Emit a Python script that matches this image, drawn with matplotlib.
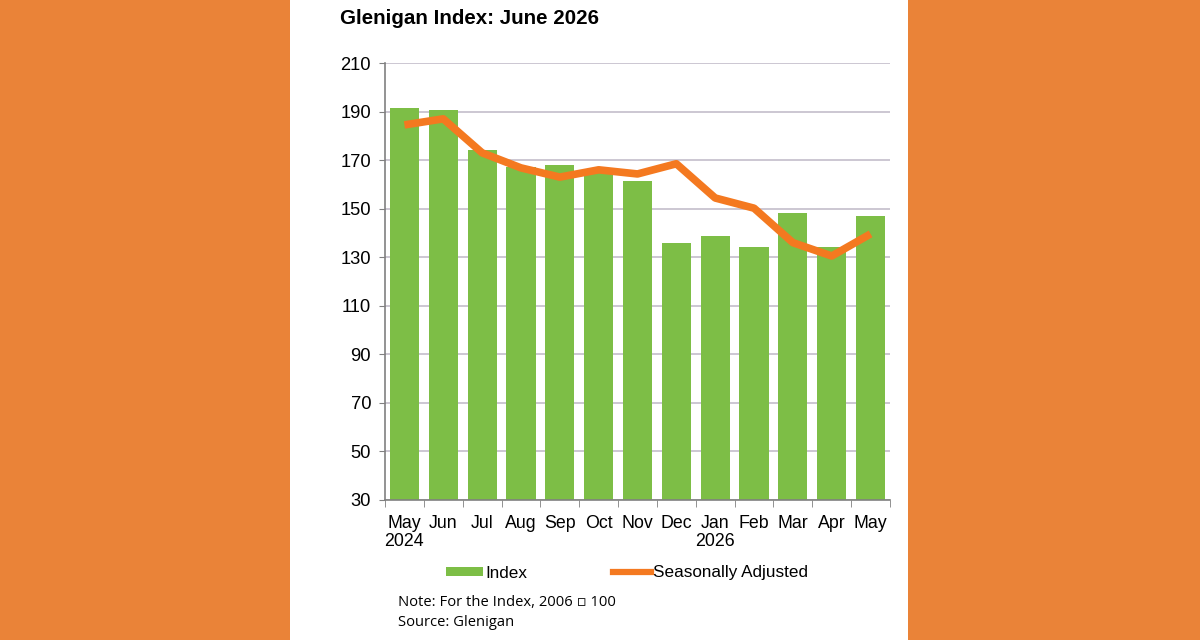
import numpy as np
import matplotlib
matplotlib.use("Agg")
import matplotlib.pyplot as plt
from matplotlib.patches import Rectangle
from matplotlib.lines import Line2D
from matplotlib.patches import Patch

months = ["May\n2024", "Jun", "Jul", "Aug", "Sep", "Oct", "Nov", "Dec",
          "Jan\n2026", "Feb", "Mar", "Apr", "May"]
index_vals = [191.5, 190.5, 174.2, 167.0, 168.0, 166.0, 161.4, 135.9,
              138.7, 134.2, 148.2, 134.2, 147.0]
seas_adj = [184.5, 187.0, 173.0, 166.8, 163.0, 166.0, 164.3, 168.5,
            154.4, 150.2, 136.0, 130.5, 139.6]
yticks = [30, 50, 70, 90, 110, 130, 150, 170, 190, 210]

BG = "#EA8338"
GREEN = "#7DBE46"
ORANGE = "#F47920"

plt.rcParams["font.family"] = ["Liberation Sans", "DejaVu Sans"]

fig = plt.figure(figsize=(12, 6.4), dpi=100, facecolor=BG)
fig.patches.append(Rectangle((290 / 1200, 0), 618 / 1200, 1,
                             transform=fig.transFigure, facecolor="white",
                             edgecolor="none", zorder=-10))

ax = fig.add_axes([385 / 1200, 1 - 500 / 640, 505 / 1200, 437 / 640])
ax.set_zorder(1)
ax.set_facecolor("white")
x = np.arange(len(months))
ax.bar(x, index_vals, width=0.75, color=GREEN, zorder=2)
ax.plot(x, seas_adj, color=ORANGE, lw=5.5, solid_joinstyle="round",
        solid_capstyle="butt", zorder=3)

ax.set_ylim(30, 210)
ax.set_xlim(-0.5, len(months) - 0.5)
ax.set_yticks(yticks)
ax.yaxis.grid(True, color="#C4BDCB", lw=1.2, zorder=0)
ax.set_axisbelow(True)
ax.set_xticks(x)
ax.set_xticklabels(months, fontsize=12.8, linespacing=1.05)
ax.set_xticks(np.arange(-0.5, len(months)), minor=True)
ax.tick_params(axis="x", which="major", length=0, pad=11)
ax.tick_params(axis="x", which="minor", length=5, color="#808080")
ax.tick_params(axis="y", length=4, color="#808080", labelsize=13.2, pad=6)
for s in ["top", "right"]:
    ax.spines[s].set_visible(False)
for s in ["left", "bottom"]:
    ax.spines[s].set_color("#808080")
    ax.spines[s].set_linewidth(1.2)

fig.text(340 / 1200, 1 - 18 / 640, "Glenigan Index: June 2026",
         fontsize=14.8, fontweight="bold", va="center", ha="left")

handles = [Patch(facecolor=GREEN, edgecolor="none"),
           Line2D([], [], color=ORANGE, lw=4.5)]
fig.legend(handles, ["Index", "Seasonally Adjusted"], loc="center",
           bbox_to_anchor=(627 / 1200, 1 - 573 / 640), ncol=2, frameon=False,
           fontsize=12.3, handlelength=2.2, handleheight=0.5,
           handletextpad=0.15, columnspacing=5.0)

fig.text(398 / 1200, 1 - 603 / 640, "Note: For the Index, 2006 \u25ab 100",
         fontsize=10.6, va="center", ha="left", family=["Open Sans", "DejaVu Sans"])
fig.text(398 / 1200, 1 - 622 / 640, "Source: Glenigan",
         fontsize=10.6, va="center", ha="left", family=["Open Sans", "DejaVu Sans"])

fig.savefig("out.png", dpi=100, facecolor=BG)
